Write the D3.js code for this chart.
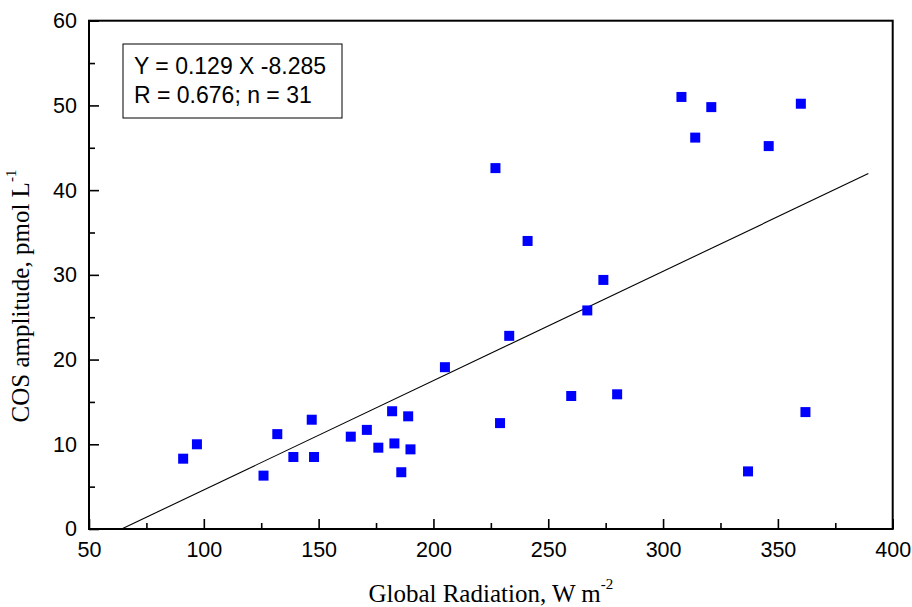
<!DOCTYPE html>
<html>
<head>
<meta charset="utf-8">
<script src="https://cdn.jsdelivr.net/npm/d3@7"></script>
<style>
  html, body { margin: 0; padding: 0; background: #fff; }
  svg { display: block; }
</style>
</head>
<body>
<svg id="chart" width="912" height="607"></svg>
<script>
// ---- data ----
const radiation = [91, 97, 126, 132, 139, 147, 148, 164, 171, 176, 182, 183, 186, 189, 190, 205,
                   227, 229, 233, 241, 260, 267, 274, 280, 308, 314, 321, 337, 346, 360, 362];
const cosAmp    = [8.3, 10.0, 6.3, 11.2, 8.5, 12.9, 8.5, 10.9, 11.7, 9.6, 13.9, 10.1, 6.7, 13.3, 9.4, 19.1,
                   42.6, 12.5, 22.8, 34.0, 15.7, 25.8, 29.4, 15.9, 51.0, 46.2, 49.8, 6.8, 45.2, 50.2, 13.8];
const fitX = [64.2, 389.4];
const fitY = [0, 41.95];
const xTicks = [50, 100, 150, 200, 250, 300, 350, 400];
const xMinorTicks = [75, 125, 175, 225, 275, 325, 375];
const yTicks = [0, 10, 20, 30, 40, 50, 60];
const yMinorTicks = [5, 15, 25, 35, 45, 55];
const equationLines = ["Y = 0.129 X -8.285", "R = 0.676; n = 31"];

// ---- layout ----
const pL = 89, pR = 892.7, pT = 20.7, pB = 529;
const svg = d3.select("#chart");

const x = d3.scaleLinear().domain([50, 400]).range([pL, pR]);
const y = d3.scaleLinear().domain([0, 60]).range([pB, pT]);

const sans = "'Liberation Sans', Arial, sans-serif";
const serif = "'Liberation Serif', 'Times New Roman', serif";

// axes (ticks inward)
const xAxis = svg.append("g").attr("transform", `translate(0,${pB})`)
  .call(d3.axisBottom(x).tickValues(xTicks).tickSizeInner(-10).tickSizeOuter(0).tickPadding(13).tickFormat(d3.format("d")));
const xMinor = svg.append("g").attr("transform", `translate(0,${pB})`)
  .call(d3.axisBottom(x).tickValues(xMinorTicks).tickSizeInner(-6).tickSizeOuter(0).tickFormat(""));
const yAxis = svg.append("g").attr("transform", `translate(${pL},0)`)
  .call(d3.axisLeft(y).tickValues(yTicks).tickSizeInner(-10).tickSizeOuter(0).tickPadding(12).tickFormat(d3.format("d")));
const yMinor = svg.append("g").attr("transform", `translate(${pL},0)`)
  .call(d3.axisLeft(y).tickValues(yMinorTicks).tickSizeInner(-6).tickSizeOuter(0).tickFormat(""));

[xAxis, xMinor, yAxis, yMinor].forEach(g => {
  g.select(".domain").remove();
  g.selectAll(".tick line").attr("stroke", "#000").attr("stroke-width", 1.6);
  g.selectAll(".tick text").attr("fill", "#000").attr("font-family", sans).attr("font-size", 21.5);
});

// frame
svg.append("rect")
  .attr("x", pL).attr("y", pT)
  .attr("width", pR - pL).attr("height", pB - pT)
  .attr("fill", "none").attr("stroke", "#000").attr("stroke-width", 2);

// regression line
svg.append("line")
  .attr("x1", x(fitX[0])).attr("y1", y(fitY[0]))
  .attr("x2", x(fitX[1])).attr("y2", y(fitY[1]))
  .attr("stroke", "#000").attr("stroke-width", 1.1);

// points
const pts = radiation.map((r, i) => ({ r, c: cosAmp[i] }));
svg.append("g").selectAll("rect").data(pts).join("rect")
  .attr("x", d => x(d.r) - 5).attr("y", d => y(d.c) - 5)
  .attr("width", 10).attr("height", 10)
  .attr("fill", "#0000ff");

// equation box
svg.append("rect")
  .attr("x", 123).attr("y", 44).attr("width", 219).attr("height", 74)
  .attr("fill", "#fff").attr("stroke", "#000").attr("stroke-width", 1);
svg.append("g").selectAll("text").data(equationLines).join("text")
  .attr("x", 134).attr("y", (d, i) => 74 + i * 29)
  .attr("font-family", sans).attr("font-size", 23).attr("fill", "#000")
  .text(d => d);

// x title
const xt = svg.append("text")
  .attr("x", (pL + pR) / 2).attr("y", 602)
  .attr("text-anchor", "middle")
  .attr("font-family", serif).attr("font-size", 25).attr("fill", "#000");
xt.append("tspan").text("Global Radiation, W m");
xt.append("tspan").attr("dy", -13).attr("font-size", 15).text("-2");

// y title
const yt = svg.append("text")
  .attr("transform", `translate(29,296) rotate(-90)`)
  .attr("text-anchor", "middle")
  .attr("font-family", serif).attr("font-size", 25).attr("fill", "#000");
yt.append("tspan").text("COS amplitude, pmol L");
yt.append("tspan").attr("dy", -13).attr("font-size", 15).text("-1");
</script>
</body>
</html>
